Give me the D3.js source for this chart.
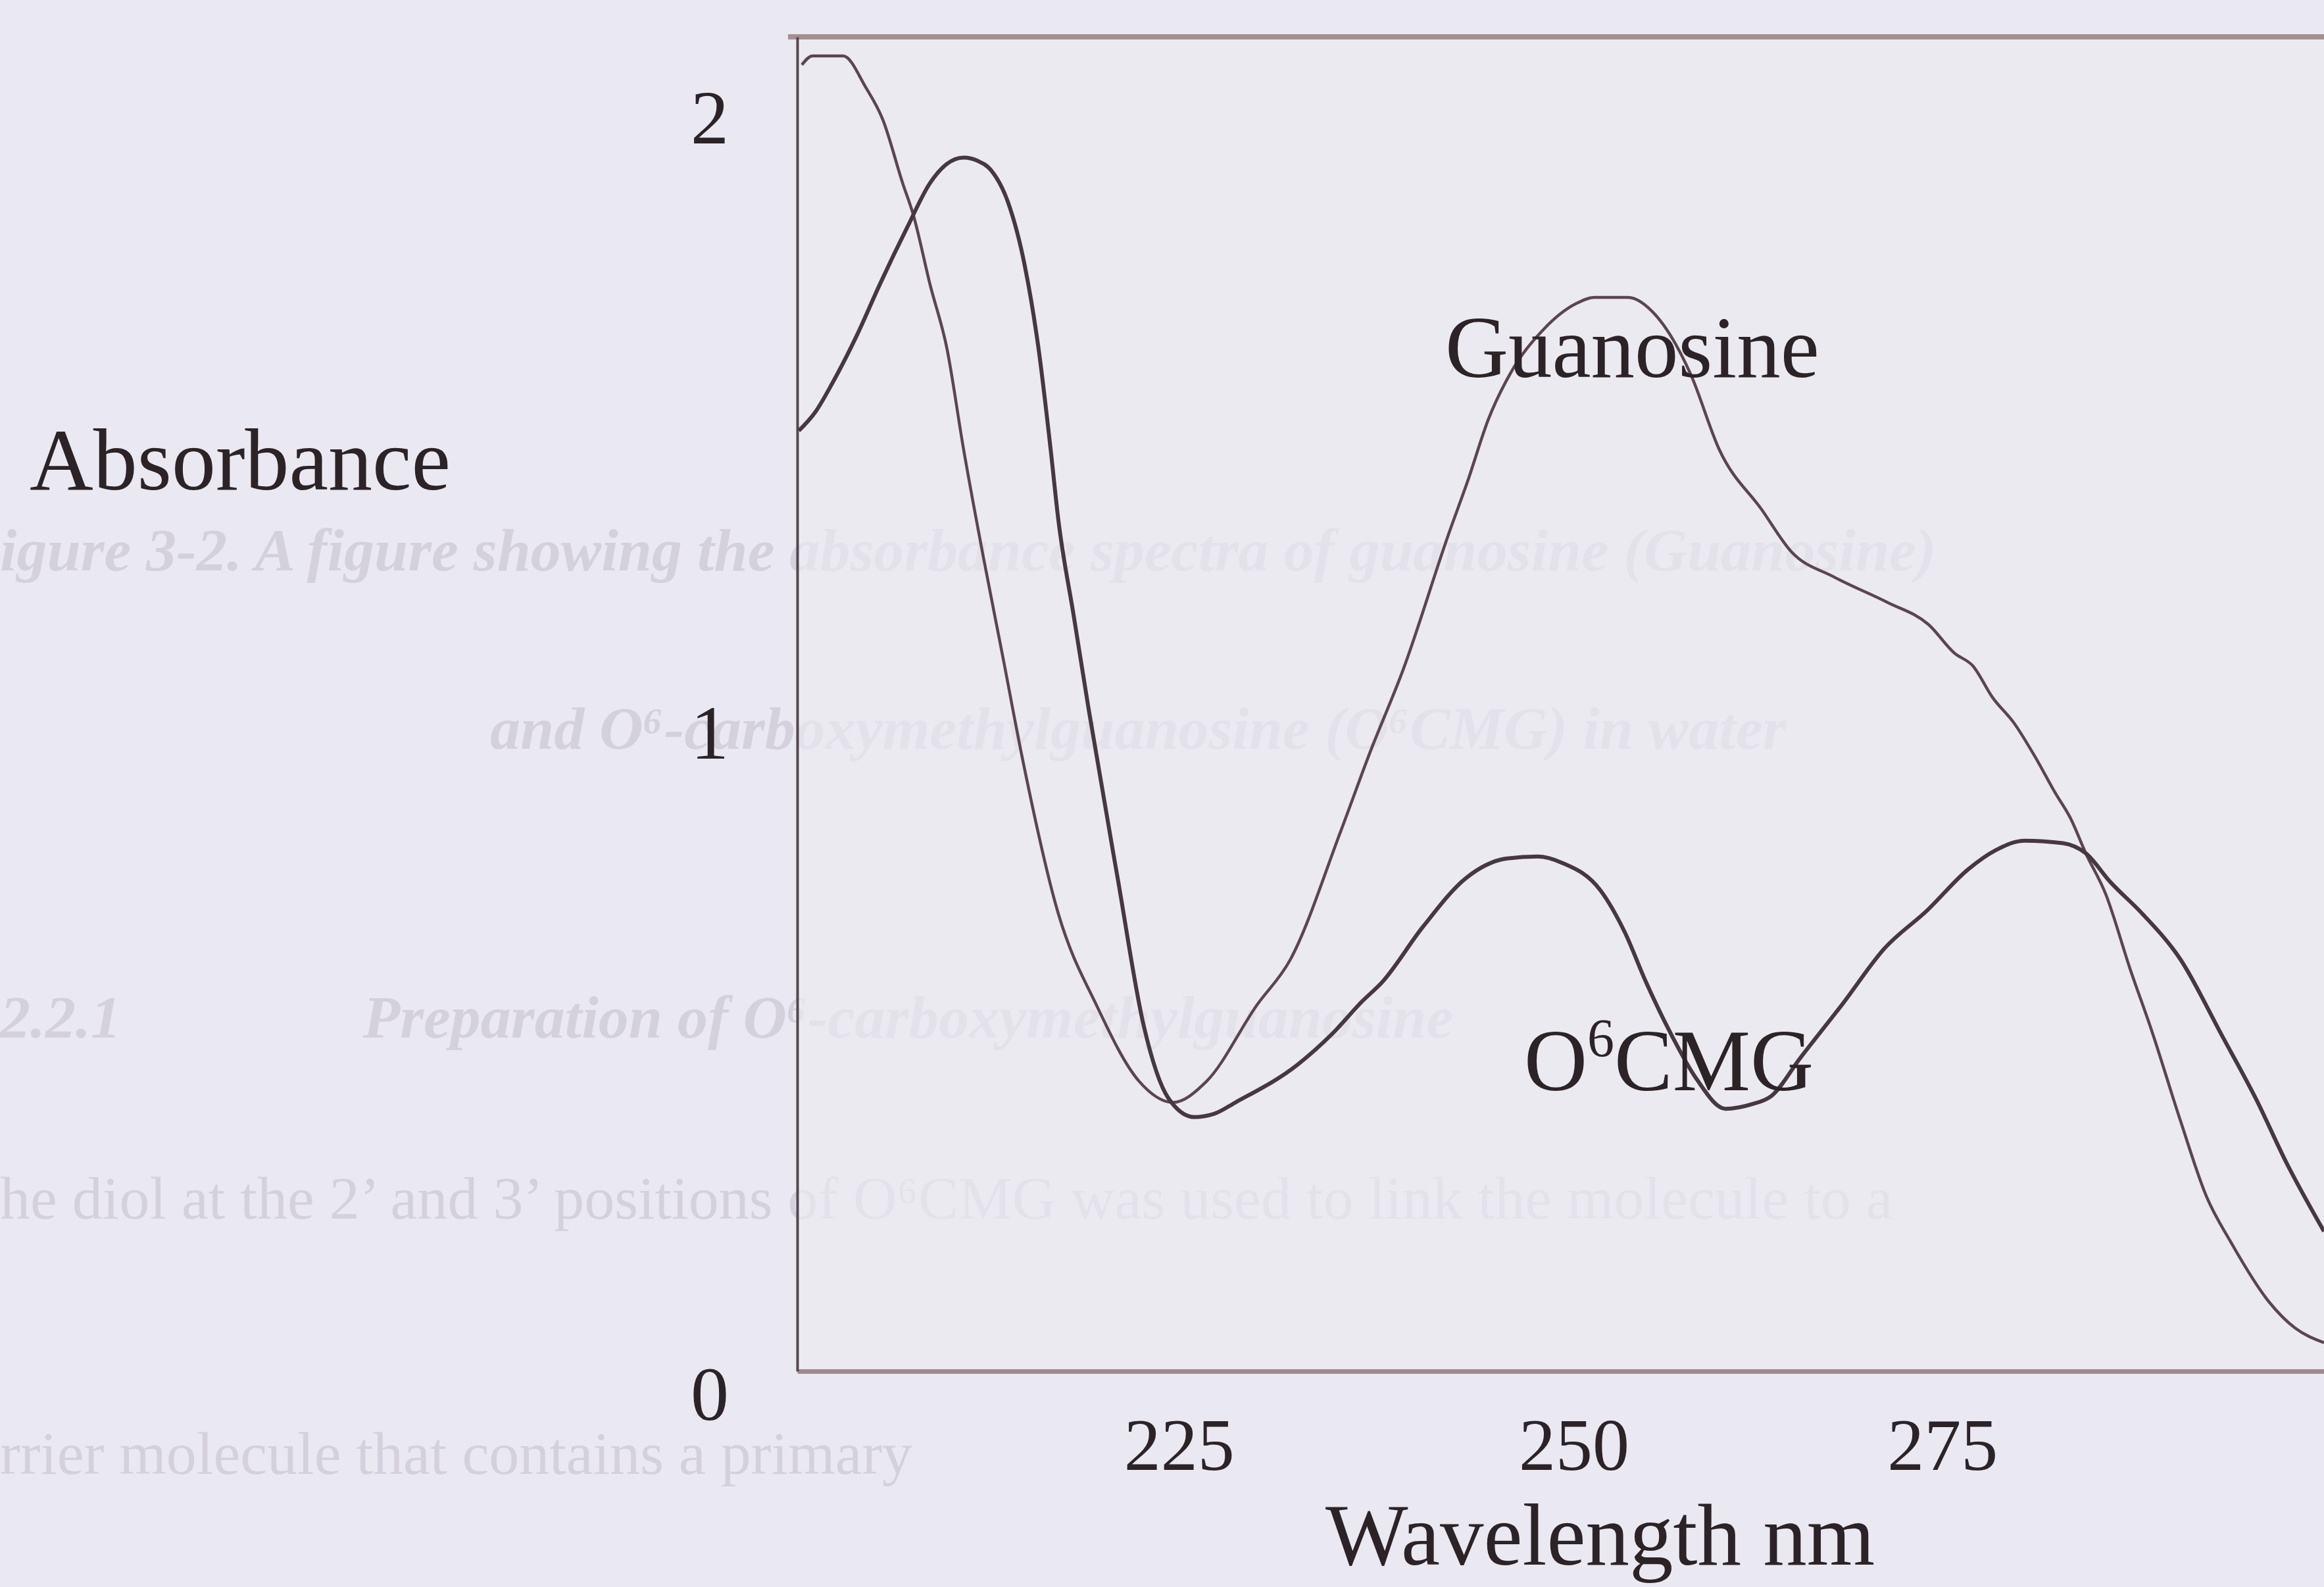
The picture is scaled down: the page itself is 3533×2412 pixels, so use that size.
<!DOCTYPE html>
<html>
<head>
<meta charset="utf-8">
<script src="https://cdn.jsdelivr.net/npm/d3@7"></script>
<style>
  body { margin: 0; background: #eae8f1; }
  svg { display: block; }
  .axis text { font-family: "Liberation Serif", "Times New Roman", serif; fill: #2b2326; }
</style>
</head>
<body>
<div class="spectrum-container"></div>
<script>
//Data
const guanosineWavelength = [200.3, 201, 203, 204.5, 205.6, 206.9, 207.6, 208.7, 209.8, 210.9, 212.2, 213.5, 214.7, 217.1, 219.6, 222.4, 224.6, 226.8, 230.1, 232.3, 235.6, 237.5, 239.7, 242.7, 243.9, 245.3, 246.7, 248.9, 251, 252.2, 254.4, 256.3, 258.5, 260.4, 263.2, 265.1, 267.9, 271.4, 274.1, 275.8, 277, 278.3, 279.7, 281.1, 282.4, 283.4, 284.4, 285.7, 287.3, 288.7, 290.6, 292.3, 293.9, 296.4, 298.1, 300];
const guanosineAbs = [2.056, 2.07, 2.07, 2.02, 1.97, 1.87, 1.82, 1.71, 1.61, 1.45, 1.28, 1.12, 0.97, 0.72, 0.576, 0.456, 0.423, 0.456, 0.576, 0.648, 0.85, 0.973, 1.105, 1.32, 1.40, 1.50, 1.57, 1.64, 1.68, 1.69, 1.69, 1.66, 1.57, 1.45, 1.355, 1.29, 1.25, 1.21, 1.175, 1.13, 1.11, 1.06, 1.02, 0.966, 0.91, 0.87, 0.815, 0.751, 0.633, 0.537, 0.394, 0.275, 0.203, 0.109, 0.068, 0.045];

const o6cmgWavelength = [200.1, 201.2, 202.3, 203.9, 205.4, 207.2, 208.7, 209.8, 210.9, 211.8, 212.7, 213.8, 214.9, 215.8, 216.6, 217.1, 218.1, 219.1, 221.0, 222.7, 224.3, 226.0, 227.3, 228.7, 232.8, 235, 237.0, 238.3, 241.0, 243.8, 246.5, 248.5, 250.1, 252.6, 254.2, 255.6, 257.2, 258.9, 260.8, 262.5, 263.8, 265.7, 268.5, 271.2, 274.0, 276.7, 278.5, 280.4, 282.9, 284.4, 286, 288.1, 290.6, 293.3, 295.6, 297.5, 300];
const o6cmgAbs = [1.48, 1.51, 1.555, 1.63, 1.71, 1.80, 1.87, 1.90, 1.91, 1.905, 1.89, 1.84, 1.74, 1.61, 1.45, 1.34, 1.19, 1.04, 0.774, 0.543, 0.43, 0.40, 0.405, 0.423, 0.483, 0.53, 0.582, 0.612, 0.70, 0.776, 0.807, 0.81, 0.80, 0.757, 0.691, 0.612, 0.532, 0.46, 0.413, 0.42, 0.433, 0.493, 0.579, 0.665, 0.725, 0.79, 0.82, 0.835, 0.831, 0.815, 0.77, 0.72, 0.648, 0.529, 0.426, 0.33, 0.22];

const xTickValues = [225, 250, 275];
const yTickValues = [0, 1, 2];

//faint text showing through from the page behind the figure
const ghostLines = [
  'igure 3-2.  A figure showing the absorbance spectra of guanosine (Guanosine)',
  'and O\u2076-carboxymethylguanosine (O\u2076CMG) in water',
  '2.2.1',
  'Preparation of O\u2076-carboxymethylguanosine',
  'he diol at the 2\u2019 and 3\u2019 positions of O\u2076CMG was used to link the molecule to a',
  'rrier molecule that contains a primary'
];

function zipSeries(xs, ys){
    return xs.map((x, i) => ({wl: x, abs: ys[i]}));
}

function setupCanvas(){
    const svg_width = 3533;
    const svg_height = 2412;
    const plot = {left: 1212, right: 3533, top: 56, bottom: 2084};

    const svg = d3.select('.spectrum-container').append('svg')
                  .attr('width', svg_width).attr('height', svg_height);

    svg.append('rect').attr('width', svg_width).attr('height', svg_height).attr('fill', '#eae8f1');

    //ghost text
    const ghost = svg.append('g').attr('class', 'ghost')
                     .style('font-family', '"Liberation Serif", serif')
                     .style('font-size', '92px')
                     .style('white-space', 'pre')
                     .style('fill', '#d4d1dc');
    const ghostPos = [[0, 867, 'bold', 'italic'], [745, 1138, 'bold', 'italic'], [0, 1577, 'bold', 'italic'],
                      [552, 1577, 'bold', 'italic'], [0, 1852, 'normal', 'normal'], [0, 2240, 'normal', 'normal']];
    ghost.selectAll('text').data(ghostLines).enter().append('text')
         .attr('x', (d, i) => ghostPos[i][0])
         .attr('y', (d, i) => ghostPos[i][1])
         .style('font-weight', (d, i) => ghostPos[i][2])
         .style('font-style', (d, i) => ghostPos[i][3])
         .text(d => d);

    //plot paper, a little more opaque than the page
    svg.append('rect')
       .attr('x', plot.left).attr('y', plot.top)
       .attr('width', plot.right - plot.left).attr('height', plot.bottom - plot.top)
       .attr('fill', '#ecebf2').attr('opacity', 0.6);

    const xScale = d3.scaleLinear().domain([200, 300]).range([plot.left, plot.right]);
    const yScale = d3.scaleLinear().domain([0, 2.1]).range([plot.bottom, plot.top]);

    //frame: top rule
    svg.append('line')
       .attr('x1', plot.left - 14).attr('x2', plot.right)
       .attr('y1', plot.top).attr('y2', plot.top)
       .attr('stroke', '#a48f92').attr('stroke-width', 8);

    //x axis
    const xAxis = d3.axisBottom(xScale).tickValues(xTickValues)
                    .tickFormat(d3.format('d')).tickSize(0).tickPadding(150);
    const xAxisDraw = svg.append('g').attr('class', 'x axis')
                         .attr('transform', `translate(0,${plot.bottom})`)
                         .call(xAxis);
    xAxisDraw.select('.domain').attr('stroke', '#9e8a8e').attr('stroke-width', 7);
    xAxisDraw.selectAll('text').style('font-size', '112px').attr('dy', 0)
             .attr('dx', d => d === 250 ? 20 : 0);

    //y axis (scanned labels sit a little off their tick)
    const yLabelShift = {0: 34, 1: -5, 2: 25};
    const yAxis = d3.axisLeft(yScale).tickValues(yTickValues)
                    .tickFormat(d3.format('d')).tickSize(0).tickPadding(104);
    const yAxisDraw = svg.append('g').attr('class', 'y axis')
                         .attr('transform', `translate(${plot.left},0)`)
                         .call(yAxis);
    yAxisDraw.select('.domain').attr('stroke', '#55474f').attr('stroke-width', 4);
    yAxisDraw.selectAll('text').style('font-size', '116px')
             .attr('dy', '0.34em').attr('y', d => yLabelShift[d]);

    //spectra
    const line = d3.line()
                   .x(d => xScale(d.wl))
                   .y(d => yScale(d.abs))
                   .curve(d3.curveMonotoneX);

    svg.append('path').datum(zipSeries(guanosineWavelength, guanosineAbs))
       .attr('class', 'line guanosine')
       .attr('d', line)
       .attr('fill', 'none').attr('stroke', '#5a464f').attr('stroke-width', 4.5)
       .attr('stroke-linejoin', 'round');

    svg.append('path').datum(zipSeries(o6cmgWavelength, o6cmgAbs))
       .attr('class', 'line o6cmg')
       .attr('d', line)
       .attr('fill', 'none').attr('stroke', '#463840').attr('stroke-width', 6)
       .attr('stroke-linejoin', 'round');

    //labels
    const labels = svg.append('g').attr('class', 'labels')
                      .style('font-family', '"Liberation Serif", "Times New Roman", serif')
                      .style('fill', '#2b2326');

    labels.append('text').attr('x', 45).attr('y', 744)
          .style('font-size', '134px').text('Absorbance');

    labels.append('text').attr('x', 2015).attr('y', 2378)
          .style('font-size', '133px').text('Wavelength nm');

    labels.append('text').attr('x', 2197).attr('y', 573)
          .style('font-size', '133px').text('Guanosine');

    const o6 = labels.append('text').attr('x', 2317).attr('y', 1657)
                     .style('font-size', '133px');
    o6.append('tspan').text('O');
    o6.append('tspan').attr('dy', -52).style('font-size', '82px').text('6');
    o6.append('tspan').attr('dy', 52).text('CMG');
}

//Main
setupCanvas();
</script>
</body>
</html>
